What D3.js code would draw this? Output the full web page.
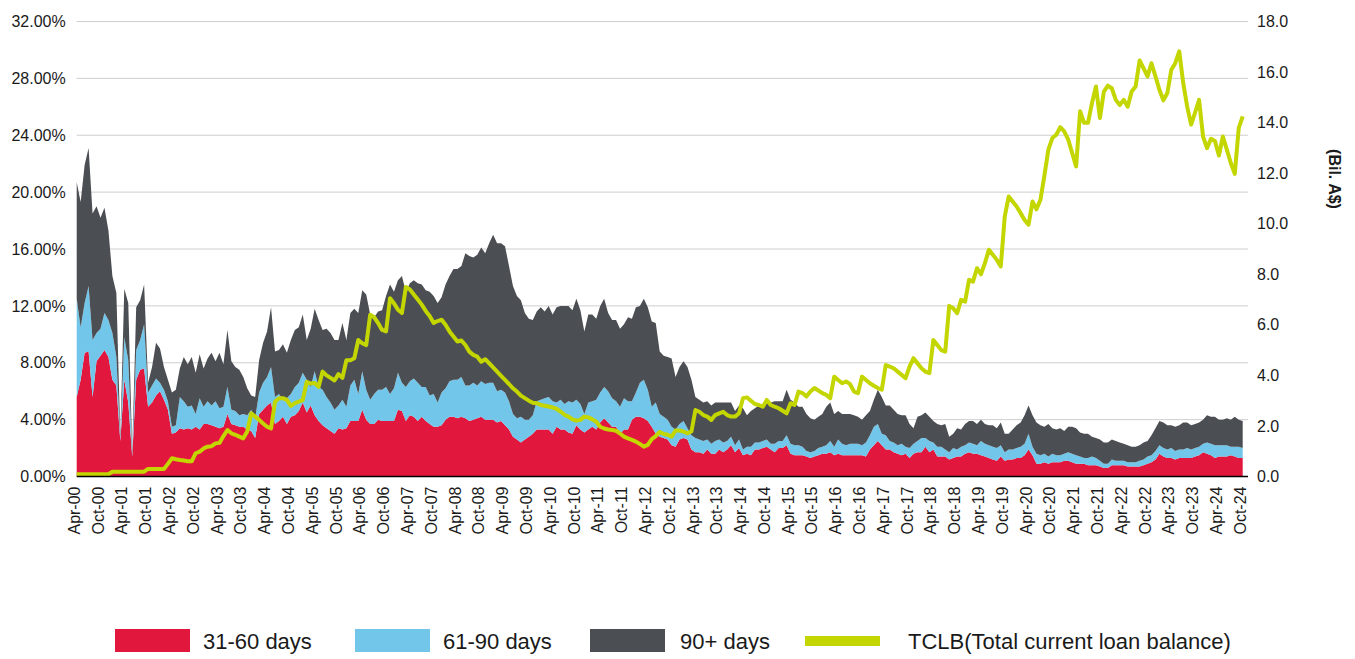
<!DOCTYPE html>
<html>
<head>
<meta charset="utf-8">
<script src="https://cdn.jsdelivr.net/npm/d3@7"></script>
<style>
  body { margin: 0; background: #fff; }
  text { font-family: "Liberation Sans", Arial, sans-serif; fill: #1a1a1a; }
</style>
</head>
<body>
<svg width="1355" height="659"></svg>
<script>
// monthly, Apr-00 .. Oct-24 (12 values per row, each row starts in April)
const startMonth = new Date(2000, 3, 1);

// delinquency share, % of pool
const days31to60 = [
  5.6, 6.8, 8.7, 8.8, 5.6, 8.1, 8.5, 8.9, 8.4, 6.8, 6.4, 2.5,
  6.8, 5.2, 1.4, 6.8, 7.5, 7.6, 4.9, 5.2, 5.7, 6.0, 5.4, 4.7,
  3.0, 3.1, 3.4, 3.3, 3.4, 3.3, 3.5, 3.3, 3.7, 3.7, 3.6, 3.5,
  3.4, 3.5, 4.4, 3.7, 3.6, 3.5, 3.5, 3.3, 3.2, 2.7, 4.4, 4.7,
  5.0, 5.2, 3.7, 3.9, 4.2, 3.7, 4.2, 4.3, 4.6, 5.2, 4.5, 5.0,
  4.3, 3.9, 3.6, 3.4, 3.2, 3.0, 3.4, 3.3, 3.4, 3.9, 3.9, 3.9,
  4.7, 4.0, 3.7, 3.7, 4.0, 3.9, 3.9, 3.9, 3.9, 4.7, 4.6, 3.9,
  4.3, 4.2, 3.9, 4.2, 3.9, 3.7, 3.5, 3.5, 3.6, 4.0, 4.2, 4.2,
  4.1, 4.2, 4.1, 3.9, 4.0, 4.1, 4.2, 4.0, 4.0, 4.0, 3.8, 3.9,
  3.6, 3.3, 2.8, 2.6, 2.4, 2.6, 2.8, 3.0, 3.3, 3.3, 3.3, 3.3,
  3.0, 3.5, 3.3, 3.3, 3.1, 3.0, 3.6, 3.3, 3.1, 3.3, 3.5, 3.3,
  3.8, 4.1, 3.8, 3.5, 3.5, 3.0, 3.3, 3.3, 4.0, 4.2, 4.2, 4.1,
  3.9, 3.5, 3.0, 2.8, 2.7, 2.6, 2.2, 2.1, 2.6, 2.7, 2.6, 1.9,
  1.7, 1.7, 1.6, 1.9, 1.6, 1.6, 1.9, 1.7, 1.9, 2.2, 1.7, 2.0,
  1.5, 1.6, 1.5, 1.9, 1.9, 2.0, 2.1, 1.9, 1.7, 2.0, 2.0, 2.2,
  1.6, 1.5, 1.5, 1.5, 1.4, 1.3, 1.4, 1.5, 1.6, 1.6, 1.7, 1.5,
  1.6, 1.5, 1.5, 1.5, 1.5, 1.5, 1.5, 1.4, 1.9, 2.2, 2.5, 2.2,
  1.9, 1.9, 1.7, 1.6, 1.5, 1.6, 1.3, 1.6, 1.7, 1.7, 2.1, 1.7,
  1.9, 1.4, 1.4, 1.4, 1.2, 1.3, 1.4, 1.4, 1.6, 1.7, 1.6, 1.6,
  1.5, 1.4, 1.3, 1.2, 1.1, 1.4, 1.1, 1.2, 1.2, 1.3, 1.3, 1.5,
  1.9, 1.5, 0.9, 0.9, 1.0, 0.9, 1.0, 1.0, 1.0, 1.1, 1.1, 1.0,
  0.9, 0.9, 0.9, 0.8, 0.8, 0.8, 0.7, 0.6, 0.6, 0.8, 0.8, 0.8,
  0.8, 0.7, 0.7, 0.7, 0.7, 0.8, 0.9, 1.0, 1.2, 1.6, 1.4, 1.3,
  1.3, 1.2, 1.3, 1.3, 1.3, 1.3, 1.4, 1.5, 1.7, 1.6, 1.5, 1.3,
  1.4, 1.4, 1.4, 1.5, 1.4, 1.3, 1.3
];
const days61to90 = [
  6.9, 3.7, 3.5, 4.6, 4.0, 2.0, 1.9, 2.6, 2.6, 3.3, 2.0, 0.2,
  3.0, 3.0, 0.2, 2.1, 2.1, 3.1, 1.0, 1.2, 1.2, 0.6, 0.7, 0.6,
  0.5, 0.5, 2.2, 2.0, 1.5, 1.7, 0.9, 2.2, 1.2, 1.6, 1.4, 1.8,
  1.4, 1.4, 1.9, 1.0, 1.0, 0.8, 0.9, 1.0, 1.5, 1.4, 1.5, 1.9,
  2.0, 2.5, 1.9, 1.9, 1.2, 1.8, 1.6, 2.0, 2.0, 2.1, 2.3, 1.3,
  3.1, 2.4, 2.5, 2.2, 2.0, 1.7, 1.6, 2.1, 1.5, 2.5, 2.9, 1.9,
  2.7, 2.1, 1.7, 2.1, 2.1, 2.2, 2.4, 1.9, 2.3, 2.6, 2.0, 2.4,
  2.4, 2.7, 2.7, 2.1, 2.4, 2.0, 2.3, 1.7, 2.3, 2.2, 2.5, 2.6,
  2.7, 2.8, 2.3, 2.5, 2.6, 2.3, 2.5, 2.5, 2.6, 2.6, 2.2, 2.2,
  2.3, 2.0, 1.6, 1.5, 1.8, 1.4, 1.2, 1.3, 2.0, 2.1, 2.2, 2.3,
  2.3, 1.7, 2.1, 1.8, 2.2, 2.2, 1.8, 1.8, 1.3, 1.9, 1.8, 2.1,
  2.1, 2.2, 2.2, 2.0, 1.8, 1.9, 2.2, 2.0, 1.3, 1.7, 2.4, 2.7,
  2.2, 1.4, 2.2, 1.6, 1.5, 1.4, 1.3, 1.2, 1.1, 1.2, 0.8, 1.0,
  1.0, 0.9, 0.9, 0.7, 0.7, 0.9, 0.7, 0.7, 0.6, 0.6, 0.5, 0.6,
  0.4, 0.5, 0.6, 0.5, 0.5, 0.5, 0.5, 0.4, 0.6, 0.5, 0.5, 0.7,
  0.7, 0.7, 0.7, 0.6, 0.4, 0.4, 0.4, 0.5, 0.5, 0.6, 0.8, 0.6,
  1.0, 0.8, 0.7, 0.8, 0.8, 0.8, 0.7, 1.0, 1.0, 1.3, 1.2, 0.8,
  1.0, 0.6, 0.7, 0.6, 0.8, 0.5, 0.7, 0.7, 0.8, 1.0, 0.6, 0.8,
  0.5, 0.7, 0.7, 0.5, 0.5, 0.7, 0.5, 0.7, 0.6, 0.7, 0.7, 0.6,
  1.0, 0.9, 0.9, 0.9, 0.9, 0.8, 0.6, 0.7, 0.7, 0.7, 0.8, 0.8,
  1.1, 0.6, 0.7, 0.6, 0.6, 0.5, 0.6, 0.5, 0.5, 0.5, 0.6, 0.6,
  0.6, 0.5, 0.4, 0.5, 0.6, 0.5, 0.4, 0.3, 0.3, 0.4, 0.3, 0.3,
  0.3, 0.3, 0.3, 0.3, 0.4, 0.4, 0.5, 0.5, 0.6, 0.6, 0.6, 0.6,
  0.7, 0.6, 0.6, 0.6, 0.7, 0.6, 0.6, 0.6, 0.6, 0.8, 0.8, 0.9,
  0.8, 0.8, 0.8, 0.6, 0.7, 0.8, 0.7
];
const days90plus = [
  8.2, 8.8, 9.7, 9.7, 8.9, 8.9, 7.8, 7.4, 6.3, 4.0, 4.5, 0.2,
  3.4, 4.0, 0.2, 3.0, 2.8, 2.8, 0.7, 1.3, 2.5, 2.4, 1.6, 1.5,
  2.4, 2.5, 2.0, 3.1, 3.0, 3.4, 2.9, 3.1, 2.7, 3.0, 3.7, 2.8,
  3.9, 3.0, 4.0, 3.4, 3.1, 3.2, 2.6, 1.9, 1.0, 1.5, 2.3, 2.8,
  3.2, 4.2, 3.2, 3.1, 3.9, 3.2, 3.8, 4.0, 3.9, 4.1, 2.8, 4.1,
  4.4, 4.7, 4.2, 4.8, 4.9, 4.9, 4.6, 5.4, 4.7, 5.1, 5.0, 5.7,
  5.7, 6.7, 6.0, 5.4, 5.5, 5.6, 6.4, 7.7, 6.8, 6.5, 7.5, 6.7,
  6.9, 6.9, 7.0, 7.2, 6.8, 7.3, 6.9, 7.0, 6.7, 7.3, 7.4, 7.8,
  7.8, 7.8, 9.3, 9.1, 8.8, 9.2, 9.4, 9.2, 9.8, 10.4, 10.4, 10.3,
  10.3, 9.5, 9.0, 8.6, 8.2, 7.5, 7.1, 6.7, 6.3, 6.5, 6.1, 6.4,
  6.1, 6.7, 6.6, 6.9, 6.7, 6.5, 7.1, 6.6, 5.8, 6.2, 6.1, 5.7,
  6.1, 6.2, 5.5, 5.5, 5.7, 5.5, 5.2, 5.9, 5.8, 6.0, 5.4, 5.7,
  5.8, 6.0, 5.6, 4.4, 4.3, 4.4, 4.8, 3.7, 4.0, 4.2, 4.3, 3.9,
  2.9, 2.8, 2.7, 2.7, 2.7, 2.7, 2.6, 2.8, 2.7, 2.4, 2.4, 2.4,
  2.9, 2.2, 2.5, 2.4, 2.6, 2.4, 2.6, 2.9, 3.0, 2.8, 2.8, 3.2,
  3.1, 3.0, 2.7, 2.8, 2.6, 2.4, 2.2, 2.2, 2.3, 2.7, 2.7, 2.3,
  2.0, 2.1, 2.2, 2.1, 2.0, 1.9, 1.8, 1.9, 1.7, 1.9, 2.4, 2.6,
  2.1, 2.5, 2.3, 2.2, 2.0, 2.2, 1.7, 1.1, 1.7, 1.6, 1.8, 1.7,
  1.5, 1.6, 1.5, 1.8, 1.1, 1.0, 1.5, 1.2, 1.5, 1.5, 1.6, 1.5,
  1.5, 1.4, 1.4, 1.5, 1.4, 1.6, 1.3, 1.1, 1.4, 1.6, 1.7, 2.0,
  2.0, 2.2, 2.2, 2.1, 1.9, 2.3, 1.8, 1.8, 1.9, 1.6, 1.8, 1.9,
  1.9, 1.7, 1.7, 1.7, 1.4, 1.4, 1.5, 1.5, 1.5, 1.4, 1.4, 1.3,
  1.2, 1.2, 1.1, 1.1, 1.1, 1.2, 1.1, 1.4, 1.6, 1.7, 1.8, 1.7,
  1.6, 1.7, 1.7, 1.9, 1.8, 1.7, 1.7, 1.7, 1.7, 1.9, 1.9, 2.0,
  1.8, 1.8, 1.9, 1.9, 2.1, 1.9, 1.9
];
// total current loan balance, bil. A$
const tclb = [
  0.09, 0.09, 0.09, 0.09, 0.09, 0.09, 0.09, 0.09, 0.09, 0.19, 0.19, 0.19,
  0.19, 0.19, 0.19, 0.19, 0.19, 0.19, 0.3, 0.3, 0.3, 0.3, 0.3, 0.5,
  0.72, 0.68, 0.65, 0.63, 0.6, 0.6, 0.92, 0.98, 1.11, 1.18, 1.2, 1.31,
  1.33, 1.6, 1.84, 1.71, 1.65, 1.58, 1.51, 1.78, 2.5, 2.37, 2.24, 2.1,
  1.97, 1.9, 2.96, 3.1, 3.1, 3.03, 2.79, 2.9, 2.96, 3.03, 3.75, 3.68,
  3.7, 3.55, 4.15, 4.0, 3.9, 3.8, 4.05, 3.9, 4.6, 4.6, 4.68, 5.4,
  5.27, 5.2, 6.4, 6.3, 6.07, 5.8, 5.74, 7.05, 6.85, 6.6, 6.47, 7.5,
  7.4, 7.2, 7.0, 6.8, 6.55, 6.35, 6.07, 6.15, 6.2, 6.0, 5.74, 5.54,
  5.34, 5.38, 5.2, 4.94, 4.81, 4.74, 4.54, 4.64, 4.48, 4.32, 4.15, 3.98,
  3.82, 3.66, 3.49, 3.36, 3.2, 3.1, 3.0, 2.92, 2.9, 2.83, 2.8, 2.77,
  2.73, 2.68, 2.57, 2.44, 2.37, 2.26, 2.21, 2.24, 2.37, 2.34, 2.26, 2.17,
  1.97, 1.9, 1.86, 1.84, 1.81, 1.7, 1.58, 1.51, 1.45, 1.38, 1.29, 1.18,
  1.25, 1.48, 1.6, 1.76, 1.68, 1.65, 1.58, 1.82, 1.82, 1.78, 1.71, 1.78,
  2.63, 2.56, 2.43, 2.37, 2.24, 2.43, 2.5, 2.56, 2.43, 2.37, 2.37, 2.5,
  3.1, 3.13, 3.0, 2.87, 2.83, 2.76, 3.03, 2.83, 2.76, 2.7, 2.6, 2.5,
  2.9, 2.83, 3.36, 3.3, 3.17, 3.36, 3.5, 3.4, 3.3, 3.23, 3.1, 3.95,
  3.82, 3.69, 3.76, 3.65, 3.36, 3.3, 3.95, 3.82, 3.69, 3.59, 3.5, 3.43,
  4.41, 4.35, 4.28, 4.15, 4.02, 3.89, 4.35, 4.68, 4.48, 4.28, 4.15, 4.09,
  5.4, 5.2, 5.0, 4.94, 6.75, 6.66, 6.46, 6.99, 6.92, 7.78, 7.71, 8.24,
  8.0, 8.44, 8.97, 8.77, 8.57, 8.31, 10.28, 11.08, 10.88, 10.68, 10.42, 10.15,
  9.96, 10.88, 10.57, 10.95, 11.9, 12.93, 13.39, 13.52, 13.82, 13.65, 13.33, 12.8,
  12.27, 14.45, 13.99, 13.99, 14.78, 15.43, 14.18, 15.23, 15.46, 15.36, 14.9, 14.7,
  14.9, 14.63, 15.23, 15.43, 16.46, 16.15, 15.83, 16.35, 15.83, 15.3, 14.88, 15.17,
  16.09, 16.35, 16.82, 15.57, 14.63, 13.92, 14.4, 14.9, 13.45, 12.99, 13.36, 13.27,
  12.7, 13.45, 12.93, 12.4, 11.97, 13.78, 14.25
];

const pctTicks = d3.range(0, 33, 4);
const balTicks = d3.range(0, 19, 2);
const seriesNames = ["31-60 days", "61-90 days", "90+ days"];
const colors = ["#e2173d", "#72c6e9", "#4b4e52"];
const lineColor = "#c4d600";

const fmtMonth = d3.timeFormat("%b-%y");
const labels = days31to60.map((_, i) => fmtMonth(d3.timeMonth.offset(startMonth, i)));
const rows = labels.map((m, i) => ({
  month: m, a: days31to60[i], b: days61to90[i], c: days90plus[i], t: tclb[i]
}));

const svg = d3.select("svg");
const plotLeft = 76.7, plotRight = 1242.7, gridEnd = 1248, plotTop = 21.5, plotBottom = 476.5;

const x = d3.scalePoint().domain(labels).range([plotLeft, plotRight]);
const yL = d3.scaleLinear().domain([0, 32]).range([plotBottom, plotTop]);
const yR = d3.scaleLinear().domain([0, 18]).range([plotBottom, plotTop]);

// gridlines
svg.append("g")
  .selectAll("line")
  .data(pctTicks.filter(d => d > 0)).enter()
  .append("line")
  .attr("x1", plotLeft).attr("x2", gridEnd)
  .attr("y1", d => yL(d)).attr("y2", d => yL(d))
  .attr("stroke", "#cfcfcf").attr("stroke-width", 1);

// stacked areas
const stack = d3.stack().keys(["a", "b", "c"]);
const layers = stack(rows);
const area = d3.area()
  .x(d => x(d.data.month))
  .y0(d => yL(d[0]))
  .y1(d => yL(d[1]));
svg.append("g")
  .selectAll("path")
  .data(layers).enter()
  .append("path")
  .attr("fill", (d, i) => colors[i])
  .attr("d", area);

// TCLB line
const line = d3.line()
  .x(d => x(d.month))
  .y(d => yR(d.t));
svg.append("path")
  .datum(rows)
  .attr("fill", "none")
  .attr("stroke", lineColor)
  .attr("stroke-width", 4)
  .attr("stroke-linejoin", "round")
  .attr("d", line);

// baseline
svg.append("line")
  .attr("x1", plotLeft).attr("x2", gridEnd)
  .attr("y1", plotBottom).attr("y2", plotBottom)
  .attr("stroke", "#000").attr("stroke-width", 1.3);

// left axis
const axL = svg.append("g")
  .attr("transform", `translate(${plotLeft},0)`)
  .call(d3.axisLeft(yL).tickValues(pctTicks)
    .tickFormat(d => d.toFixed(2) + "%").tickSize(0).tickPadding(11));
axL.select(".domain").remove();
axL.selectAll("text").style("font-size", "16px").attr("fill", "#1a1a1a");

// right axis
const axR = svg.append("g")
  .attr("transform", `translate(${gridEnd},0)`)
  .call(d3.axisRight(yR).tickValues(balTicks)
    .tickFormat(d => d.toFixed(1)).tickSize(0).tickPadding(9));
axR.select(".domain").remove();
axR.selectAll("text").style("font-size", "16px").attr("fill", "#1a1a1a");

// bottom axis, rotated month labels every 6 months
const axB = svg.append("g")
  .attr("transform", `translate(0,${plotBottom})`)
  .call(d3.axisBottom(x).tickValues(labels.filter((_, i) => i % 6 === 0)).tickSize(0));
axB.select(".domain").remove();
axB.selectAll("text")
  .style("font-size", "16px")
  .attr("fill", "#1a1a1a")
  .attr("transform", "rotate(-90)")
  .attr("text-anchor", "end")
  .attr("x", -10)
  .attr("y", -3)
  .attr("dy", "0.35em");

// right axis title
svg.append("text")
  .attr("transform", "translate(1335,179) rotate(90)")
  .attr("text-anchor", "middle")
  .attr("dy", "0.35em")
  .style("font-size", "16px")
  .style("font-weight", "bold")
  .text("(Bil. A$)");

// legend
const legendItems = [
  { name: seriesNames[0], color: colors[0], x: 115, tx: 203, kind: "box" },
  { name: seriesNames[1], color: colors[1], x: 355, tx: 443, kind: "box" },
  { name: seriesNames[2], color: colors[2], x: 590, tx: 680, kind: "box" },
  { name: "TCLB(Total current loan balance)", color: lineColor, x: 805, tx: 908, kind: "line" }
];
const lg = svg.append("g").selectAll("g").data(legendItems).enter().append("g");
lg.append("rect")
  .attr("x", d => d.x)
  .attr("y", d => d.kind === "box" ? 629 : 636)
  .attr("width", 75)
  .attr("height", d => d.kind === "box" ? 23 : 10)
  .attr("fill", d => d.color);
lg.append("text")
  .attr("x", d => d.tx)
  .attr("y", 641)
  .attr("dy", "0.35em")
  .style("font-size", "22px")
  .text(d => d.name);
</script>
</body>
</html>
